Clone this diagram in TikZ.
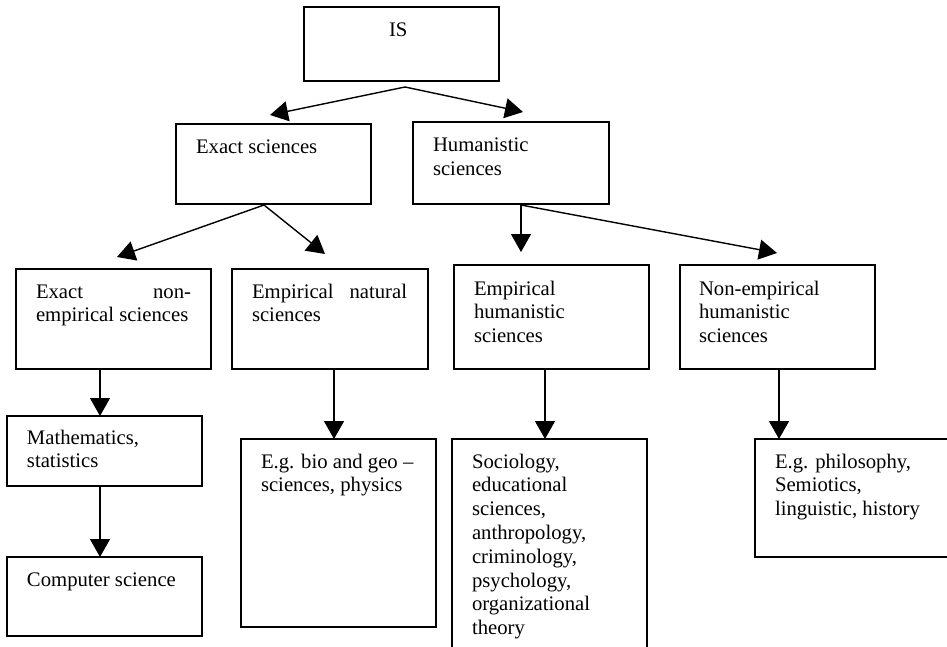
\documentclass[tikz,border=0pt]{standalone}
\usepackage{fontspec}
\setmainfont{Liberation Serif}
\usetikzlibrary{arrows.meta,calc}
\tikzset{
  box/.style={draw=black, line width=1.4pt, rectangle, inner sep=0pt, outer sep=0pt, anchor=north west},
  txt/.style={inner sep=0pt, outer sep=0pt, anchor=base west, align=left, font=\fontsize{20.7}{23.8}\selectfont},
  arr/.style={line width=1.4pt, -{Triangle[length=18pt,width=20pt]}}
}
\begin{document}
\begin{tikzpicture}[x=1pt,y=-1pt]
\useasboundingbox (0,0) rectangle (947,647);
\clip (0,0) rectangle (947,647);
\fill[white] (0,0) rectangle (947,647);
% boxes
\node[box, minimum width=195pt, minimum height=74pt] (is) at (304,7) {};
\node[box, minimum width=195pt, minimum height=80pt] (exact) at (176,124) {};
\node[box, minimum width=196pt, minimum height=82pt] (hum) at (413,122) {};
\node[box, minimum width=195pt, minimum height=100pt] (exnon) at (16,269) {};
\node[box, minimum width=196pt, minimum height=100pt] (empnat) at (232,269) {};
\node[box, minimum width=195pt, minimum height=104pt] (emphum) at (454,265) {};
\node[box, minimum width=195pt, minimum height=104pt] (nonemp) at (680,265) {};
\node[box, minimum width=195pt, minimum height=70pt] (math) at (7,416) {};
\node[box, minimum width=195pt, minimum height=79pt] (comp) at (7,557) {};
\node[box, minimum width=195pt, minimum height=188pt] (bio) at (241,439) {};
\node[box, minimum width=195pt, minimum height=260pt] (soc) at (452,439) {};
\node[box, minimum width=220pt, minimum height=118pt] (phil) at (755,439) {};
% texts (anchor = baseline of the last line)
\node[txt] (is-t) at (389,37) {IS};
\node[txt] (exact-t) at (196,154) {Exact sciences};
\node[txt] (hum-t) at (433,175.8) {Humanistic\\sciences};
\node[txt] (exnon-t) at (36,321.8) {\makebox[155pt][s]{Exact non-}\\empirical sciences};
\node[txt] (empnat-t) at (252,321.8) {\makebox[155pt][s]{Empirical natural}\\sciences};
\node[txt] (emphum-t) at (474,342.6) {Empirical\\humanistic\\sciences};
\node[txt] (nonemp-t) at (699,342.6) {Non-empirical\\humanistic\\sciences};
\node[txt] (math-t) at (27,467.8) {Mathematics,\\statistics};
\node[txt] (comp-t) at (27,586) {Computer science};
\node[txt] (bio-t) at (261,491.8) {E.g. bio and geo –\\sciences, physics};
\node[txt] (soc-t) at (472,634.6) {Sociology,\\educational\\sciences,\\anthropology,\\criminology,\\psychology,\\organizational\\theory};
\node[txt] (phil-t) at (775,515.6) {E.g. philosophy,\\Semiotics,\\linguistic, history};
% connectors
\coordinate (isfork) at ($(is.south)+(3.5,6)$);
\coordinate (exfork) at ($(exact.south)+(-9.5,1)$);
\coordinate (humfork) at ($(hum.south)+(10,1)$);
\draw[arr] (isfork) -- ($(exact.north)+(-3.5,-9)$);
\draw[arr] (isfork) -- ($(hum.north)+(12,-10)$);
\draw[arr] (exfork) -- ($(exnon.north)+(3.5,-12)$);
\draw[arr] (exfork) -- ($(empnat.north)+(-5,-15)$);
\draw[arr] (humfork) -- (humfork |- {$(emphum.north)+(0,-13)$});
\draw[arr] (humfork) -- ($(nonemp.north)+(-0.5,-12)$);
\draw[arr] (exnon.south -| 100,0) -- (math.north -| 100,0);
\draw[arr] (math.south -| 100,0) -- (comp.north -| 100,0);
\draw[arr] (empnat.south -| 334,0) -- (bio.north -| 334,0);
\draw[arr] (emphum.south -| 545,0) -- (soc.north -| 545,0);
\draw[arr] (nonemp.south -| 779,0) -- (phil.north -| 779,0);
\end{tikzpicture}
\end{document}
